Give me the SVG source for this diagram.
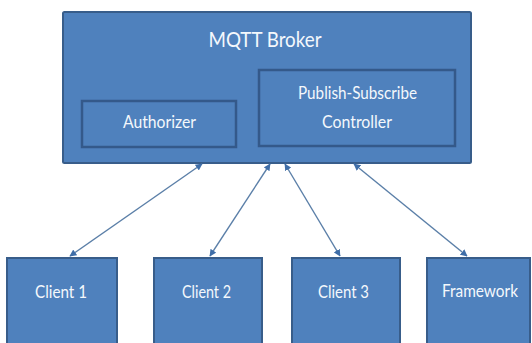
<svg xmlns="http://www.w3.org/2000/svg" width="532" height="343" viewBox="0 0 532 343">
  <style>
    .box { fill: #4f81bd; stroke: #385d8a; stroke-width: 2; }
    .inner { fill: #4f81bd; stroke: #34598a; stroke-width: 2.5; }
    .lbl { font-family: Lato, "Open Sans", "Liberation Sans", sans-serif; fill: #f4f8fc; text-anchor: middle; }
    .link { stroke: #5b7fa8; stroke-width: 1.4; fill: none; marker-start: url(#tip); marker-end: url(#tip); }
  </style>
  <defs>
    <marker id="tip" viewBox="0 0 10 10" refX="9" refY="5" markerWidth="7" markerHeight="7" orient="auto-start-reverse" markerUnits="userSpaceOnUse">
      <path d="M0,0 L10,5 L0,10 z" fill="#3f6ea8"/>
    </marker>
  </defs>
  <rect width="532" height="343" fill="#ffffff"/>

  <g id="broker">
    <rect class="box" x="63" y="12" width="408" height="151" rx="1.5"/>
    <text class="lbl" x="265" y="47" font-size="21" textLength="113" lengthAdjust="spacingAndGlyphs">MQTT Broker</text>
  </g>
  <g id="authorizer">
    <rect class="inner" x="82" y="101" width="154" height="46"/>
    <text class="lbl" x="159.5" y="128" font-size="16.5" textLength="73" lengthAdjust="spacingAndGlyphs">Authorizer</text>
  </g>
  <g id="pubsub">
    <rect class="inner" x="259" y="70" width="196" height="76"/>
    <text class="lbl" x="357.5" y="99" font-size="16.5" textLength="119" lengthAdjust="spacingAndGlyphs">Publish-Subscribe</text>
    <text class="lbl" x="357" y="128" font-size="16.5" textLength="70" lengthAdjust="spacingAndGlyphs">Controller</text>
  </g>

  <g id="client1">
    <rect class="box" x="7" y="258" width="110" height="90"/>
    <text class="lbl" x="61" y="298" font-size="16.5" textLength="52" lengthAdjust="spacingAndGlyphs">Client 1</text>
  </g>
  <g id="client2">
    <rect class="box" x="154" y="258" width="108" height="90"/>
    <text class="lbl" x="206.5" y="298" font-size="16.5" textLength="49" lengthAdjust="spacingAndGlyphs">Client 2</text>
  </g>
  <g id="client3">
    <rect class="box" x="292" y="258" width="108" height="90"/>
    <text class="lbl" x="343.5" y="298" font-size="16.5" textLength="51" lengthAdjust="spacingAndGlyphs">Client 3</text>
  </g>
  <g id="framework">
    <rect class="box" x="427" y="258" width="103" height="90"/>
    <text class="lbl" x="480" y="297" font-size="16.5" textLength="76" lengthAdjust="spacingAndGlyphs">Framework</text>
  </g>

  <g id="connectors">
    <line class="link" x1="70" y1="256" x2="202" y2="164"/>
    <line class="link" x1="210" y1="256" x2="270" y2="164"/>
    <line class="link" x1="340" y1="256" x2="285" y2="164"/>
    <line class="link" x1="467" y1="256" x2="354" y2="164"/>
  </g>
</svg>
